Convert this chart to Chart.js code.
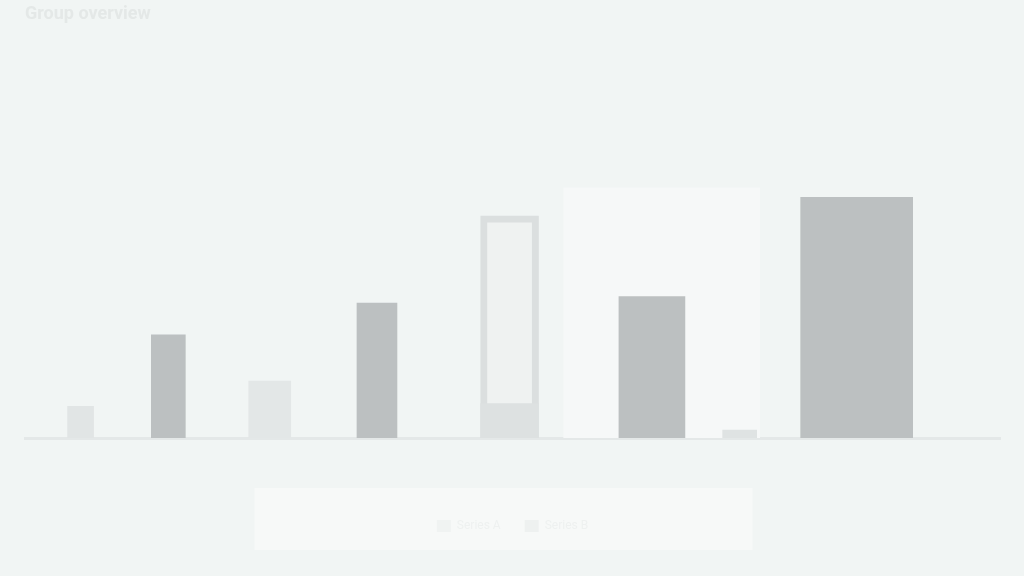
<!DOCTYPE html>
<html>
<head>
<meta charset="utf-8">
<title>Bar chart</title>
<script src="https://cdn.jsdelivr.net/npm/chart.js@4"></script>
<style>
    html, body { margin: 0; padding: 0; background: #f1f5f4; }
    #wrap { position: relative; width: 1024px; height: 576px; }
</style>
</head>
<body>
<div id="wrap"><canvas id="chart"></canvas></div>
<script>
// values (x on a 0-100 position scale, y on 0-100)
const seriesNames = ["Series A", "Series B"];
const lightX = [5.7, 25.1, 49.7, 73.3];
const lightValues = [12, 21.5, 84, 3];
const darkX = [14.7, 36.1, 64.3, 85.3];
const darkValues = [39, 51, 53.5, 91];
const baseX = [49.7];
const baseValues = [13];
const bandX = [65.3];
const bandValues = [94.6];

// styles
const lightWidths = [26, 42, 58, 34];
const darkWidths = [34, 40, 66, 112];
const lightFill = ["#e1e5e5", "#e3e7e7", "#eff2f1", "#dfe3e3"];
const lightBorder = ["#e1e5e5", "#e3e7e7", "#dbdfdf", "#dfe3e3"];
const darkFill = "#bcc0c1";

const datasets = [];
lightX.forEach((x, i) => {
    datasets.push({
        label: seriesNames[0],
        data: [{ x, y: lightValues[i] }],
        backgroundColor: lightFill[i],
        borderColor: lightBorder[i],
        borderWidth: i === 2 ? 7 : 0,
        borderSkipped: false,
        barThickness: lightWidths[i],
        grouped: false,
        order: 3
    });
});
darkX.forEach((x, i) => {
    datasets.push({
        label: seriesNames[1],
        data: [{ x, y: darkValues[i] }],
        backgroundColor: darkFill,
        borderWidth: 0,
        barThickness: darkWidths[i],
        grouped: false,
        order: 1
    });
});
// darker foot of the outlined bar
datasets.push({
    label: "base",
    data: [{ x: baseX[0], y: baseValues[0] }],
    backgroundColor: "#dde1e1",
    borderWidth: 0,
    barThickness: 58,
    grouped: false,
    order: 2
});
// light highlight band behind the third group
datasets.push({
    label: "band",
    data: [{ x: bandX[0], y: bandValues[0] }],
    backgroundColor: "#f6f8f8",
    borderWidth: 0,
    barThickness: 196,
    grouped: false,
    order: 9
});

// page background and white legend panel
const panelPlugin = {
    id: "panel",
    beforeDraw(chart) {
        const { ctx, width, height, legend } = chart;
        ctx.save();
        ctx.fillStyle = "#f1f5f4";
        ctx.fillRect(0, 0, width, height);
        if (legend) {
            const cx = legend.left + legend.width / 2;
            const cy = legend.top + legend.height / 2;
            ctx.fillStyle = "#f7f9f8";
            ctx.fillRect(cx - 258, cy - 31, 498, 62);
        }
        ctx.restore();
    }
};

new Chart(document.getElementById("chart"), {
    type: "bar",
    data: { datasets },
    options: {
        responsive: true,
        maintainAspectRatio: false,
        animation: false,
        layout: { padding: { left: 25, right: 24, top: 2, bottom: 34 } },
        plugins: {
            title: {
                display: true,
                text: "Group overview",
                align: "start",
                color: "#e4e8e7",
                font: { family: "Roboto", size: 18 },
                padding: { top: 2, bottom: 148 }
            },
            legend: {
                position: "bottom",
                labels: {
                    color: "#eef1f0",
                    boxWidth: 14,
                    padding: 24,
                    font: { family: "Roboto", size: 12 },
                    generateLabels: () => [
                        { text: seriesNames[0], fillStyle: "#f0f3f2", strokeStyle: "#f0f3f2", fontColor: "#eef1f0", lineWidth: 0, datasetIndex: 0 },
                        { text: seriesNames[1], fillStyle: "#eef1f0", strokeStyle: "#eef1f0", fontColor: "#eef1f0", lineWidth: 0, datasetIndex: 4 }
                    ]
                }
            },
            tooltip: { enabled: false }
        },
        scales: {
            x: {
                type: "linear",
                offset: false,
                min: 0,
                max: 100,
                grid: { display: false },
                border: { display: true, color: "#e4e8e8", width: 3 },
                ticks: { display: false },
                afterFit: (scale) => { scale.height = 58; }
            },
            y: {
                min: 0,
                max: 100,
                display: false
            }
        }
    },
    plugins: [panelPlugin]
});
</script>
</body>
</html>
